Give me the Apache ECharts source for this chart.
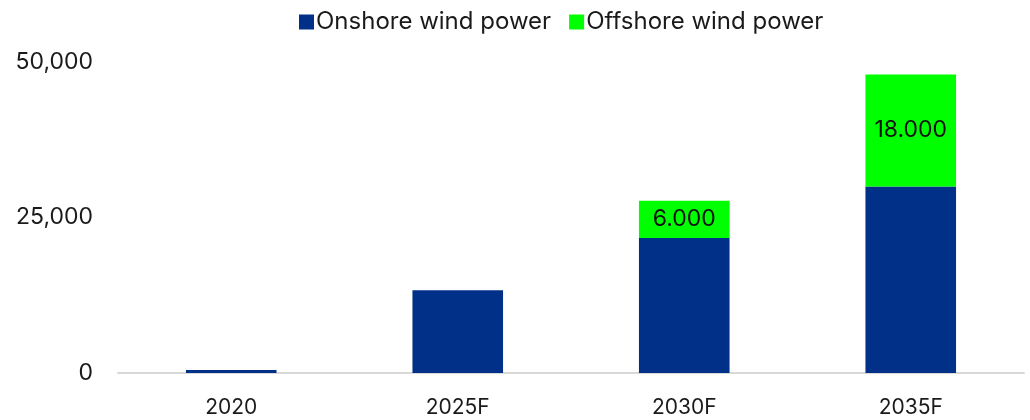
<!DOCTYPE html>
<html><head><meta charset="utf-8">
<script src="https://cdn.jsdelivr.net/npm/echarts@6/dist/echarts.min.js"></script>
<style>html,body{margin:0;padding:0;background:#fff}#c{width:1030px;height:420px}</style>
</head><body><div id="c"></div>
<script>
const categories = ['2020', '2025F', '2030F', '2035F'];
const onshore = [500, 13300, 21700, 30000];
const offshore = [0, 0, 6000, 18000];
const yTicks = [0, 25000, 50000];

const font = 'Inter, "Noto Sans", sans-serif';
const chart = echarts.init(document.getElementById('c'), null, {renderer: 'canvas'});
chart.setOption({
  animation: false,
  textStyle: {fontFamily: font},
  legend: {
    top: 5, left: 294, itemGap: 18, itemWidth: 15, itemHeight: 15,
    icon: 'rect',
    textStyle: {fontFamily: font, fontSize: 24, color: '#1a1a1a', padding: [0, 0, 0, -3]},
    data: ['Onshore wind power', 'Offshore wind power']
  },
  grid: {left: 118, right: 6, top: 62, bottom: 47},
  xAxis: {
    type: 'category', data: categories,
    axisLine: {lineStyle: {color: '#d9d9d9', width: 2}},
    axisTick: {show: false},
    axisLabel: {fontFamily: font, fontSize: 21, color: '#1a1a1a', margin: 24}
  },
  yAxis: {
    type: 'value', min: yTicks[0], max: yTicks[yTicks.length - 1], interval: 25000,
    splitLine: {show: false},
    axisLine: {show: false}, axisTick: {show: false},
    axisLabel: {fontFamily: font, fontSize: 23, color: '#1a1a1a', margin: 25,
      formatter: v => v.toLocaleString('en-US')}
  },
  series: [
    {name: 'Onshore wind power', type: 'bar', stack: 'a', data: onshore,
     barWidth: '40%', itemStyle: {color: '#003087'}},
    {name: 'Offshore wind power', type: 'bar', stack: 'a', data: offshore,
     itemStyle: {color: '#00ff00'},
     label: {show: true, position: 'inside', fontFamily: font, fontSize: 23, color: '#111',
       formatter: p => p.value > 0 ? p.value.toLocaleString('de-DE') : ''}}
  ]
});
</script></body></html>
